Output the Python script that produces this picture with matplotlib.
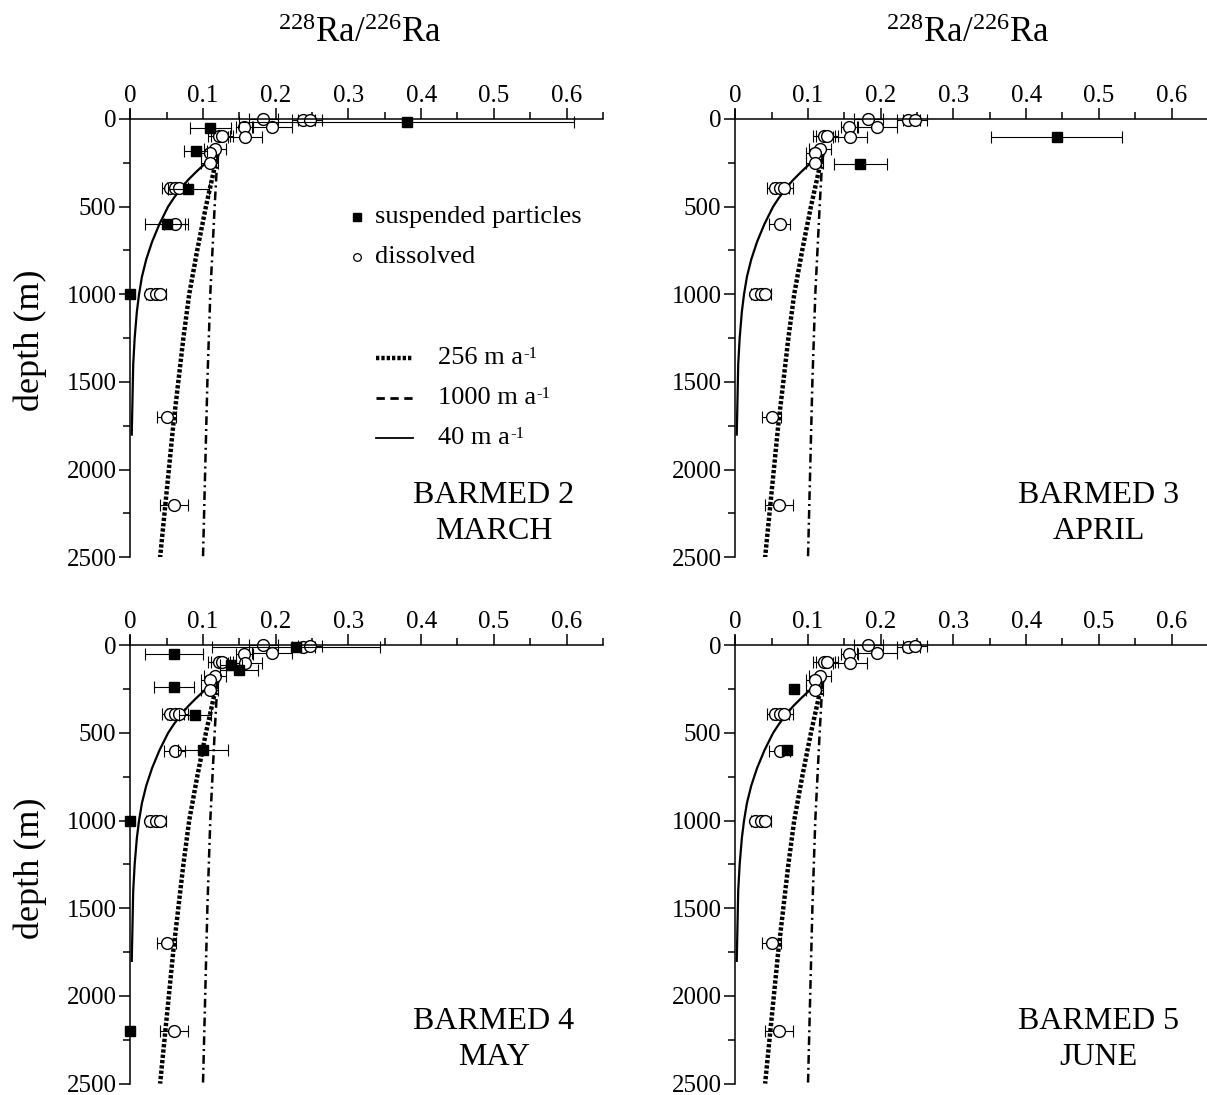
import numpy as np
import matplotlib
matplotlib.use("Agg")
import matplotlib.pyplot as plt
from matplotlib.ticker import MultipleLocator

plt.rcParams['font.family'] = ['Liberation Serif', 'DejaVu Serif']
plt.rcParams['mathtext.fontset'] = 'custom'
plt.rcParams['mathtext.rm'] = 'Liberation Serif'
plt.rcParams['mathtext.it'] = 'Liberation Serif:italic'

# dissolved 228Ra/226Ra (same profile shown on every panel)
dis_depth = [0, 8, 5, 48, 44, 97, 97, 100, 173, 196, 253, 392, 392, 392, 601, 1000, 1000, 1000, 1700, 2200]
dis_ratio = [0.183, 0.238, 0.247, 0.157, 0.195, 0.122, 0.126, 0.158, 0.116, 0.109, 0.109,
             0.055, 0.062, 0.067, 0.061, 0.027, 0.036, 0.041, 0.050, 0.060]
dis_err = [0.020, 0.016, 0.016, 0.012, 0.027, 0.015, 0.015, 0.023, 0.015, 0.012, 0.012,
           0.012, 0.012, 0.012, 0.014, 0.005, 0.006, 0.008, 0.013, 0.019]

# suspended particles, one set per cruise
p2_depth = [15, 49, 182, 399, 599, 1000]
p2_ratio = [0.380, 0.110, 0.090, 0.080, 0.050, 0.0]
p2_err = [0.23, 0.028, 0.016, 0.028, 0.030, 0.0]

p3_depth = [100, 257]
p3_ratio = [0.442, 0.172]
p3_err = [0.09, 0.036]

p4_depth = [10, 51, 110, 139, 238, 395, 595, 1000, 2200]
p4_ratio = [0.228, 0.060, 0.139, 0.149, 0.060, 0.089, 0.100, 0.0, 0.0]
p4_err = [0.115, 0.040, 0.015, 0.026, 0.027, 0.022, 0.035, 0.0, 0.0]

p5_depth = [249, 595]
p5_ratio = [0.081, 0.071]
p5_err = [0.0, 0.0]

# model profiles for three advection velocities
m40_depth = [200, 250, 300, 350, 400, 450, 500, 600, 700, 800, 900, 1000, 1100, 1250, 1400, 1600, 1800]
m40_ratio = [0.120, 0.104, 0.091, 0.079, 0.069, 0.060, 0.052, 0.040, 0.030, 0.022, 0.016,
             0.012, 0.009, 0.006, 0.004, 0.003, 0.002]
m256_depth = [200, 500, 750, 1000, 1250, 1500, 1750, 2000, 2250, 2500]
m256_ratio = [0.120, 0.104, 0.092, 0.081, 0.073, 0.066, 0.059, 0.053, 0.047, 0.041]
m1000_depth = [200, 500, 1000, 1500, 2000, 2500]
m1000_ratio = [0.120, 0.116, 0.110, 0.106, 0.103, 0.100]

cruises = ["BARMED 2\nMARCH", "BARMED 3\nAPRIL", "BARMED 4\nMAY", "BARMED 5\nJUNE"]
particles = [(p2_depth, p2_ratio, p2_err), (p3_depth, p3_ratio, p3_err),
             (p4_depth, p4_ratio, p4_err), (p5_depth, p5_ratio, p5_err)]

W, H = 1207, 1095
fig = plt.figure(figsize=(W / 100, H / 100), dpi=100)

boxes = [(130.3, 110.2), (735.3, 110.2), (130.3, 636.5), (735.3, 636.5)]
aw, ah = 472.6, 447.1

dotted = (0, (0.75, 0.45))
dashdot = (0, (3.5, 1.6, 0.8, 1.6))

axes = []
for i, (x0, y0) in enumerate(boxes):
    ax = fig.add_axes([x0 / W, 1 - (y0 + ah) / H, aw / W, ah / H])
    axes.append(ax)
    ax.set_xlim(0, 0.65)
    ax.set_ylim(2500, -50)

    ax.spines['right'].set_visible(False)
    ax.spines['bottom'].set_visible(False)
    ax.spines['top'].set_position(('data', 0))
    for s in ('top', 'left'):
        ax.spines[s].set_linewidth(1.1)

    ax.xaxis.set_ticks_position('top')
    ax.xaxis.set_minor_locator(MultipleLocator(0.05))
    ax.yaxis.set_major_locator(MultipleLocator(500))
    ax.yaxis.set_minor_locator(MultipleLocator(250))
    ax.set_xticks(np.arange(0, 0.61, 0.1))
    ax.set_xticklabels(["0", "0.1", "0.2", "0.3", "0.4", "0.5", "0.6"])
    ax.tick_params(axis='x', which='major', direction='out', length=8, width=1.1, labelsize=18, pad=0.5)
    ax.tick_params(axis='x', which='minor', direction='out', length=5, width=1.1)
    ax.tick_params(axis='y', which='major', direction='out', length=8, width=1.1, labelsize=18, pad=2)
    ax.tick_params(axis='y', which='minor', direction='out', length=5, width=1.1)

    # model curves
    ax.plot(m256_ratio, m256_depth, color='black', lw=3.2, linestyle=dotted, dash_capstyle='butt')
    ax.plot(m1000_ratio, m1000_depth, color='black', lw=1.8, linestyle=dashdot)
    ax.plot(m40_ratio, m40_depth, color='black', lw=1.6)

    # dissolved
    ax.errorbar(dis_ratio, dis_depth, xerr=dis_err, fmt='none', ecolor='black',
                elinewidth=0.8, capsize=4, capthick=0.8, clip_on=False)
    ax.plot(dis_ratio, dis_depth, 'o', ms=8.5, mfc='white', mec='black', mew=1.0, clip_on=False)

    # particles
    pd_, pr, pe = particles[i]
    pd_ = np.array(pd_)
    pr = np.array(pr)
    pe = np.array(pe)
    m = pe > 0
    if m.any():
        ax.errorbar(pr[m], pd_[m], xerr=pe[m], fmt='none', ecolor='black',
                    elinewidth=0.8, capsize=4, capthick=0.8, clip_on=False)
    ax.plot(pr, pd_, 's', ms=7.5, color='black', clip_on=False)

    ax.text(0.50, 2250, cruises[i], ha='center', va='center', fontsize=23, linespacing=1.3)

# legend drawn by hand in the first panel
ax = axes[0]
ax.plot([0.312], [559], 's', ms=6, color='black')
ax.text(0.336, 559, "suspended particles", va='center', fontsize=19)
ax.plot([0.312], [787], 'o', ms=5.5, mfc='white', mec='black', mew=0.9)
ax.text(0.336, 787, "dissolved", va='center', fontsize=19)

leg_y = [1363, 1592, 1820]
ax.plot([0.338, 0.389], [leg_y[0]] * 2, color='black', lw=3.2, linestyle=dotted, dash_capstyle='butt')
ax.plot([0.338, 0.389], [leg_y[1]] * 2, color='black', lw=2.0, linestyle=(0, (3, 2)))
ax.plot([0.338, 0.389], [leg_y[2]] * 2, color='black', lw=1.3)
for y, lab in zip(leg_y, ["256 m a", "1000 m a", "40 m a"]):
    t = ax.text(0.423, y, lab, va='center', fontsize=19)
    ax.annotate("-1", xy=(1, 1), xycoords=t, xytext=(0.5, 1), textcoords='offset points',
                va='top', ha='left', fontsize=12)

# column titles and depth labels
for xc in (360, 968):
    fig.text(xc / W, 1 - 33 / H, "$^{228}$Ra/$^{226}$Ra", ha='center', va='center', fontsize=25)
for yc in (340, 868):
    fig.text(30 / W, 1 - yc / H, "depth (m)", ha='center', va='center', rotation=90, fontsize=26)

fig.savefig("out.png", dpi=100)
